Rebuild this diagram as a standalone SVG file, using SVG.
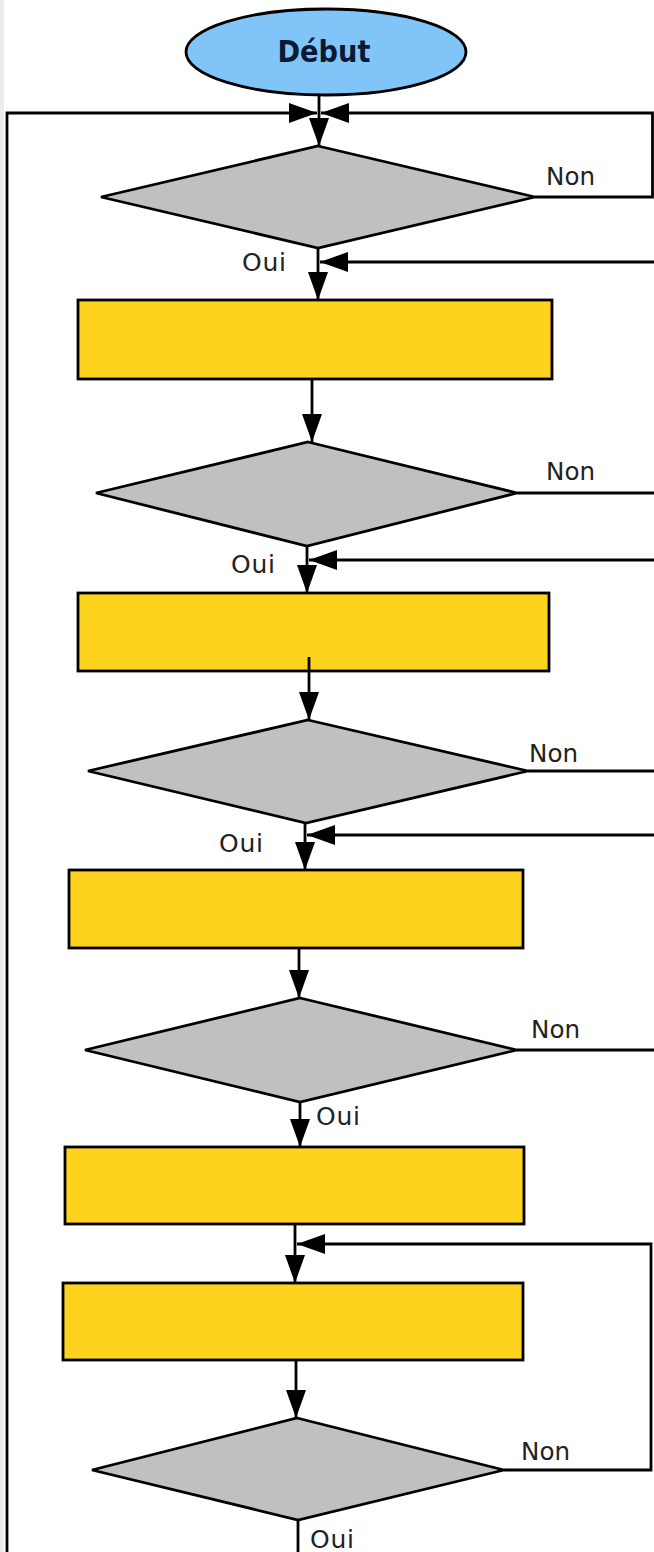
<svg xmlns="http://www.w3.org/2000/svg" width="654" height="1552" viewBox="0 0 654 1552">
<style>
.ln{fill:none;stroke:#000;stroke-width:2.8}
.arr{marker-end:url(#ah)}
.dec{fill:#c0c0c0;stroke:#000;stroke-width:2.8;stroke-linejoin:miter}
.proc{fill:#fdd31e;stroke:#000;stroke-width:2.8}
.lbl{font-family:"DejaVu Sans","Liberation Sans",sans-serif;font-size:25px;fill:#222}
.title{font-family:"DejaVu Sans","Liberation Sans",sans-serif;font-size:31px;font-weight:bold;fill:#0b1a33}
</style>
<defs>
<marker id="ah" markerUnits="userSpaceOnUse" markerWidth="30" markerHeight="22" refX="28" refY="10" orient="auto" viewBox="0 0 30 20">
<path d="M0,0 L28,10 L0,20 z" fill="#000"/>
</marker>
</defs>
<rect x="0" y="0" width="654" height="1552" fill="#fff"/>
<rect x="0" y="0" width="4" height="1552" fill="#ececec"/>

<g id="connectors">
<path class="ln arr" d="M319,95 V146"/>
<path class="ln arr" d="M7,1552 V113 H317"/>
<path class="ln arr" d="M535,197 H652.5 V113 H321"/>
<path class="ln arr" d="M318,248 V300"/>
<path class="ln arr" d="M654,262 H320"/>
<path class="ln arr" d="M312,379 V442"/>
<path class="ln" d="M517,493 H654"/>
<path class="ln arr" d="M654,560 H309"/>
<path class="ln arr" d="M307,546 V593"/>
<path class="ln arr" d="M309,657 V720"/>
<path class="ln" d="M528,771 H654"/>
<path class="ln arr" d="M654,835 H307"/>
<path class="ln arr" d="M305,823 V870"/>
<path class="ln arr" d="M299,948 V998"/>
<path class="ln" d="M517,1050 H654"/>
<path class="ln arr" d="M300,1102 V1147"/>
<path class="ln arr" d="M295,1224 V1283"/>
<path class="ln arr" d="M504,1470 H651 V1244 H297"/>
<path class="ln arr" d="M296,1360 V1418"/>
<path class="ln" d="M298,1520 V1552"/>
</g>

<g id="start">
<ellipse cx="326" cy="52" rx="140" ry="43" fill="#80c4f8" stroke="#000" stroke-width="2.8"/>
<text class="title" x="324" y="62" text-anchor="middle" textLength="93" lengthAdjust="spacingAndGlyphs">Début</text>
</g>

<g id="decision1">
<polygon class="dec" points="318,146 535,197 318,248 101,197"/>
<text class="lbl" x="546" y="185" textLength="49" lengthAdjust="spacingAndGlyphs">Non</text>
<text class="lbl" x="242" y="271" textLength="44" lengthAdjust="spacing">Oui</text>
</g>

<g id="process1"><rect class="proc" x="78" y="300" width="474" height="79"/></g>

<g id="decision2">
<polygon class="dec" points="308,442 517,493 307,546 96,493"/>
<text class="lbl" x="546" y="480" textLength="49" lengthAdjust="spacingAndGlyphs">Non</text>
<text class="lbl" x="231" y="573" textLength="44" lengthAdjust="spacing">Oui</text>
</g>

<g id="process2"><rect class="proc" x="78" y="593" width="471" height="78"/></g>
<path class="ln" d="M309,657 V671"/>

<g id="decision3">
<polygon class="dec" points="308,720 528,771 306,823 88,771"/>
<text class="lbl" x="529" y="762" textLength="49" lengthAdjust="spacingAndGlyphs">Non</text>
<text class="lbl" x="219" y="852" textLength="44" lengthAdjust="spacing">Oui</text>
</g>

<g id="process3"><rect class="proc" x="69" y="870" width="454" height="78"/></g>

<g id="decision4">
<polygon class="dec" points="300,998 517,1050 300,1102 85,1050"/>
<text class="lbl" x="531" y="1038" textLength="49" lengthAdjust="spacingAndGlyphs">Non</text>
<text class="lbl" x="316" y="1125" textLength="44" lengthAdjust="spacing">Oui</text>
</g>

<g id="process4"><rect class="proc" x="65" y="1147" width="459" height="77"/></g>

<g id="process5"><rect class="proc" x="63" y="1283" width="460" height="77"/></g>

<g id="decision5">
<polygon class="dec" points="297,1418 504,1470 298,1520 92,1470"/>
<text class="lbl" x="521" y="1460" textLength="49" lengthAdjust="spacingAndGlyphs">Non</text>
<text class="lbl" x="310" y="1548" textLength="44" lengthAdjust="spacing">Oui</text>
</g>
</svg>
